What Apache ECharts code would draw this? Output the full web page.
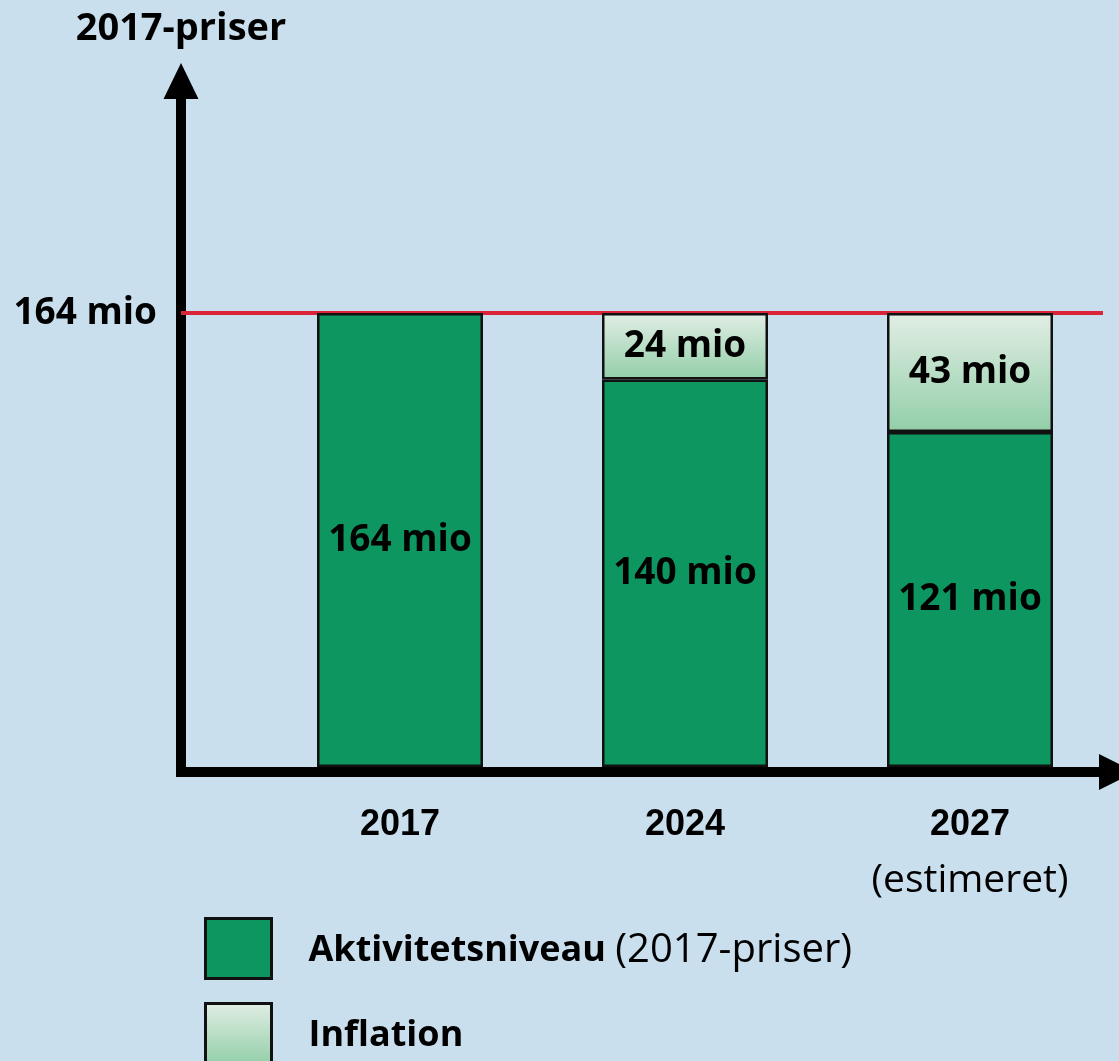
<!DOCTYPE html>
<html><head><meta charset="utf-8">
<style>html,body{margin:0;padding:0;background:#c9dfed;}#c{width:1119px;height:1061px;}</style>
<script src="https://cdn.jsdelivr.net/npm/echarts@6/dist/echarts.min.js"></script>
</head><body><div id="c"></div>
<script>
const categories = ['2017', '2024', '2027'];
const categoryNotes = ['', '', '(estimeret)'];
const activity = [164, 140, 121];
const inflation = [null, 24, 43];
const referenceLevel = 164;
const unit = 'mio';

const chart = echarts.init(document.getElementById('c'), null, {renderer: 'canvas'});
const green = '#0d9660';
const grad = new echarts.graphic.LinearGradient(0, 0, 0, 1, [
  {offset: 0, color: '#e2eee5'}, {offset: 1, color: '#92cea8'}]);
const boldFont = 'Open Sans';
const labelFont = {fontFamily: boldFont, fontWeight: 'bold', fontSize: 37, color: '#000'};
const yMax = 247.8;

chart.setOption({
  backgroundColor: '#c9dfed',
  animation: false,
  grid: [
    {left: 181, right: 2, top: 81, bottom: 294},
    {left: 257.5, right: 6.5, top: 81, bottom: 294}
  ],
  xAxis: [
    {
      gridIndex: 0, type: 'value', min: 0, max: 1.0152, offset: 5,
      splitLine: {show: false}, axisTick: {show: false}, axisLabel: {show: false},
      axisLine: {show: true, onZero: false, symbol: ['none', 'triangle'], symbolSize: [36, 36],
        lineStyle: {color: '#000', width: 10, cap: 'square'}}
    },
    {
      gridIndex: 1, type: 'category', data: categories, offset: 5,
      axisLine: {show: false}, axisTick: {show: false},
      axisLabel: {
        margin: 25,
        formatter: (v, i) => categoryNotes[i] ? '{y|' + v + '}\n{n|' + categoryNotes[i] + '}' : '{y|' + v + '}',
        rich: {
          y: {fontFamily: 'Liberation Sans', fontWeight: 'bold', fontSize: 36, color: '#000', lineHeight: 56},
          n: {fontFamily: 'Open Sans', fontWeight: 'normal', fontSize: 39, color: '#000', lineHeight: 56}
        }
      }
    }
  ],
  yAxis: [
    {
      gridIndex: 0, type: 'value', min: 0, max: yMax,
      name: '2017-priser', nameLocation: 'end', nameGap: 33,
      nameTextStyle: {fontFamily: boldFont, fontWeight: 'bold', fontSize: 38, color: '#000'},
      splitLine: {show: false}, axisTick: {show: false},
      axisLine: {show: true, onZero: false, symbol: ['none', 'triangle'], symbolSize: [35, 36],
        lineStyle: {color: '#000', width: 10, cap: 'square'}},
      axisLabel: {customValues: [referenceLevel], margin: 24,
        formatter: v => v + ' ' + unit, ...labelFont}
    },
    {
      gridIndex: 1, type: 'value', min: 0, max: yMax, show: false
    }
  ],
  legend: {
    orient: 'vertical', left: 204, top: 917, height: 200, padding: 0,
    itemWidth: 66, itemHeight: 60, itemGap: 22,
    icon: 'rect',
    itemStyle: {borderColor: '#111', borderWidth: 3},
    data: ['Aktivitetsniveau', 'Inflation'],
    formatter: n => n === 'Aktivitetsniveau' ? '{b|Aktivitetsniveau }{r|(2017-priser)}' : '{b|Inflation}',
    textStyle: {padding: [0, 0, 0, 32], rich: {
      b: {fontFamily: boldFont, fontWeight: 'bold', fontSize: 36, color: '#000', padding: [4, 0, 0, 0]},
      r: {fontFamily: 'Open Sans', fontWeight: 'normal', fontSize: 40, color: '#000', padding: [4, 0, 0, 0]}
    }}
  },
  series: [
    {
      name: 'Referenceniveau', type: 'line', xAxisIndex: 0, yAxisIndex: 0,
      data: [[0, referenceLevel], [1, referenceLevel]],
      showSymbol: false, silent: true,
      lineStyle: {color: '#d9243a', width: 4}, z: 1
    },
    {
      name: 'Aktivitetsniveau', type: 'bar', xAxisIndex: 1, yAxisIndex: 1, stack: 'total', barWidth: 166,
      data: activity,
      itemStyle: {color: green, borderColor: '#111', borderWidth: 2.5},
      label: {show: true, position: 'inside', formatter: p => p.value + ' ' + unit, ...labelFont},
      z: 3
    },
    {
      name: 'Inflation', type: 'bar', xAxisIndex: 1, yAxisIndex: 1, stack: 'total', barWidth: 166,
      data: inflation.map(v => v == null ? '-' : v),
      itemStyle: {color: grad, borderColor: '#111', borderWidth: 2.5},
      label: {show: true, position: 'inside', formatter: p => p.value + ' ' + unit, ...labelFont},
      z: 3
    }
  ]
});
</script></body></html>
